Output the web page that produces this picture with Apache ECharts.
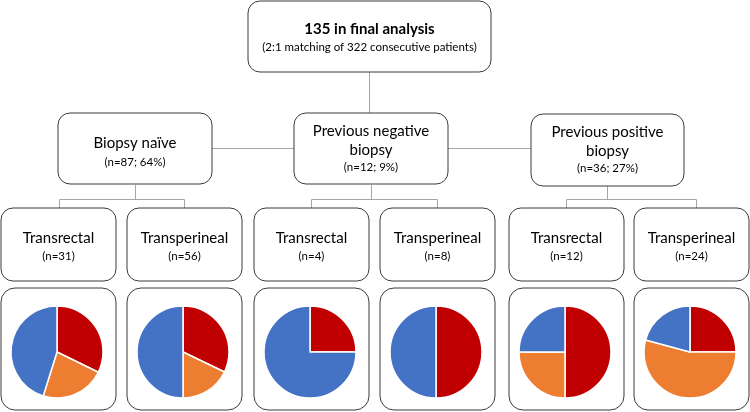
<!DOCTYPE html>
<html><head><meta charset="utf-8">
<script src="https://cdn.jsdelivr.net/npm/echarts@6/dist/echarts.min.js"></script>
<style>html,body{margin:0;padding:0;background:#fff}#c{width:750px;height:412px}</style>
</head><body><div id="c"></div>
<script>
// Data
var groupLabels = ['Biopsy naïve', 'Previous negative\nbiopsy', 'Previous positive\nbiopsy'];
var groupCounts = ['(n=87; 64%)', '(n=12; 9%)', '(n=36; 27%)'];
var routeLabels = ['Transrectal', 'Transperineal', 'Transrectal', 'Transperineal', 'Transrectal', 'Transperineal'];
var routeCounts = ['(n=31)', '(n=56)', '(n=4)', '(n=8)', '(n=12)', '(n=24)'];
var outcomeNames = ['Red group', 'Orange group', 'Blue group'];
var redValues = [10, 18, 1, 4, 6, 6];
var orangeValues = [7, 10, 0, 0, 3, 13];
var blueValues = [14, 28, 3, 4, 3, 5];
var colors = ['#C00000', '#ED7D31', '#4472C4'];

var chart = echarts.init(document.getElementById('c'));
var FONT = 'Lato, "Open Sans", sans-serif';
var boxStroke = '#3a3a3a';
var lineCol = '#a6a6a6';
var g = [];
function box(x, y, w, h, r) {
  g.push({type: 'rect', shape: {x: x, y: y, width: w, height: h, r: r || 12}, style: {fill: '#fff', stroke: boxStroke, lineWidth: 1}, z: 2});
}
function text(x, y, s, size, bold) {
  g.push({type: 'text', x: x, y: y, style: {text: s, fill: '#000', font: (bold ? 'bold ' : '') + size + 'px ' + FONT, textAlign: 'center', textVerticalAlign: 'middle', lineHeight: size * 1.25}, z: 3});
}
function line(x1, y1, x2, y2, c) {
  g.push({type: 'line', shape: {x1: x1, y1: y1, x2: x2, y2: y2}, style: {stroke: c || lineCol, lineWidth: 1}, z: 1});
}

// connectors
line(369.5, 72, 369.5, 113);
line(212, 148.5, 294, 148.5);
line(448, 148.5, 531, 148.5);
var parents = [135.5, 371.5, 607.5];
var kids = [[59.5, 184.5], [311.5, 437.5], [566.5, 696.5]];
for (var i = 0; i < 3; i++) {
  line(parents[i], 185, parents[i], 199.5);
  line(kids[i][0], 199.5, kids[i][1], 199.5);
  line(kids[i][0], 199.5, kids[i][0], 208);
  line(kids[i][1], 199.5, kids[i][1], 208);
}

// top box
box(248, 1, 243, 71, 12);
text(369.5, 29, '135 in final analysis', 15, true);
text(369.5, 47, '(2:1 matching of 322 consecutive patients)', 11.5);

// group boxes
var gb = [[58, 113, 154, 71], [294, 113, 154, 71], [531, 114, 153, 72]];
for (i = 0; i < 3; i++) {
  box(gb[i][0], gb[i][1], gb[i][2], gb[i][3], 12);
  var cx = gb[i][0] + gb[i][2] / 2;
  if (i === 0) {
    text(cx, 143, groupLabels[i], 15);
    text(cx, 162, groupCounts[i], 11.5);
  } else {
    text(cx, gb[i][1] + 28, groupLabels[i], 15);
    text(cx, gb[i][1] + 54, groupCounts[i], 11.5);
  }
}

// route boxes + pie boxes
var rx = [1, 127, 254, 380, 509, 634];
var series = [];
for (i = 0; i < 6; i++) {
  box(rx[i], 208, 115, 73, 12);
  text(rx[i] + 57.5, 238, routeLabels[i], 15);
  text(rx[i] + 57.5, 256, routeCounts[i], 11.5);
  box(rx[i], 288, 115, 122, 14);
  var vals = [redValues[i], orangeValues[i], blueValues[i]];
  var data = [];
  for (var k = 0; k < 3; k++) {
    if (vals[k] > 0) data.push({name: outcomeNames[k], value: vals[k], itemStyle: {color: colors[k]}});
  }
  series.push({
    type: 'pie', center: [rx[i] + 56, 352], radius: 46, startAngle: 90, clockwise: true,
    label: {show: false}, labelLine: {show: false}, silent: true, animation: false, z: 5,
    itemStyle: {borderColor: '#fff', borderWidth: 1.5},
    data: data
  });
}

chart.setOption({
  animation: false,
  graphic: {elements: g},
  series: series
});
</script></body></html>
